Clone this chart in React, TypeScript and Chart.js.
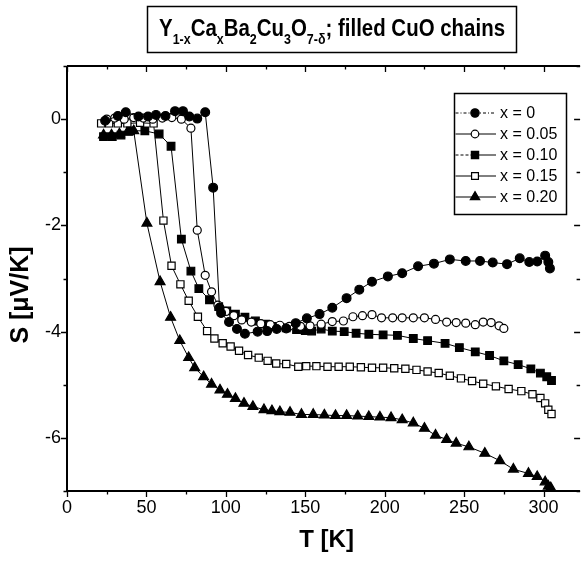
import React, { useEffect, useRef } from 'react';
import { Chart, registerables } from 'chart.js';

Chart.register(...registerables);

// ---------- data ----------
const seriesLabels = ['x = 0', 'x = 0.05', 'x = 0.10', 'x = 0.15', 'x = 0.20'];

const T_x000 = [24, 32, 37, 45, 51, 56, 62, 68, 73, 77, 82, 87, 92, 96, 97, 102, 107, 112, 120, 126, 132, 138, 144, 151, 159, 167, 176, 184, 192, 202, 211, 221, 231, 241, 251, 260, 268, 277, 285, 291, 296, 301, 303, 304];
const S_x000 = [-0.03, 0.06, 0.13, 0.05, 0.05, 0.08, 0.06, 0.15, 0.15, 0.05, 0.01, 0.13, -1.29, -3.55, -3.65, -3.82, -3.95, -4.04, -4.0, -3.99, -3.95, -3.94, -3.84, -3.75, -3.67, -3.55, -3.37, -3.21, -3.06, -2.96, -2.9, -2.77, -2.72, -2.64, -2.67, -2.67, -2.7, -2.73, -2.62, -2.69, -2.68, -2.57, -2.69, -2.81];

const T_x005 = [25, 30, 36, 42, 48, 54, 60, 66, 72, 78, 82, 87, 91, 95, 100, 105, 110, 116, 122, 128, 134, 140, 147, 153, 160, 167, 174, 180, 186, 192, 198, 205, 211, 218, 225, 232, 239, 245, 251, 257, 262, 267, 272, 275];
const S_x005 = [0.0, 0.02, 0.0, 0.03, 0.02, 0.0, 0.02, 0.03, 0.0, -0.17, -2.09, -2.94, -3.25, -3.5, -3.62, -3.7, -3.78, -3.82, -3.85, -3.87, -3.88, -3.9, -3.9, -3.89, -3.86, -3.81, -3.8, -3.72, -3.7, -3.68, -3.74, -3.74, -3.74, -3.74, -3.74, -3.77, -3.82, -3.83, -3.84, -3.87, -3.82, -3.83, -3.89, -3.94];

const T_x010 = [23, 28.5, 34, 40, 49, 58, 65.5, 72, 78, 83, 89.7, 95.5, 100.6, 106, 112, 118.6, 125, 131, 138, 144.5, 150, 154, 160, 167, 174.5, 182, 190, 199, 208, 218, 227, 238, 247, 257, 266, 275, 284, 292, 298, 302, 305];
const S_x010 = [-0.33, -0.33, -0.3, -0.22, -0.22, -0.28, -0.51, -2.26, -2.86, -3.19, -3.4, -3.53, -3.61, -3.67, -3.73, -3.8, -3.86, -3.9, -3.93, -3.96, -3.98, -3.99, -3.95, -3.99, -4.0, -4.03, -4.05, -4.06, -4.07, -4.13, -4.17, -4.22, -4.3, -4.38, -4.45, -4.55, -4.62, -4.7, -4.78, -4.85, -4.92];

const T_x015 = [21.5, 26.5, 32, 38, 46, 54.5, 60.7, 65.8, 71.4, 76.6, 82.4, 88.2, 92.8, 98, 103, 108.3, 114, 120.7, 126.3, 131.7, 138, 145.6, 150.6, 157, 164, 171, 178, 185, 192, 199, 206, 213, 220, 227, 234, 241, 248, 255, 262, 270, 278, 286, 293, 298, 301, 303, 305];
const S_x015 = [-0.08, -0.08, -0.08, -0.08, -0.07, -0.08, -1.91, -2.76, -3.11, -3.42, -3.72, -3.99, -4.13, -4.22, -4.28, -4.36, -4.44, -4.49, -4.55, -4.6, -4.61, -4.66, -4.65, -4.65, -4.66, -4.66, -4.66, -4.67, -4.68, -4.68, -4.69, -4.7, -4.72, -4.75, -4.78, -4.83, -4.88, -4.93, -4.98, -5.03, -5.08, -5.12, -5.18, -5.25, -5.35, -5.47, -5.55];

const T_x020 = [23, 28, 33, 38, 42, 50.3, 58.6, 65.2, 71, 76.6, 80.4, 86, 91, 96.3, 101, 106, 111.4, 117, 124, 129, 134, 140.4, 147.6, 155, 162, 169, 176, 183, 190, 197, 204, 211, 218, 225, 232, 239, 245, 253, 263, 272.5, 281, 290.5, 296, 301, 303, 304.5];
const S_x020 = [-0.3, -0.3, -0.28, -0.25, -0.22, -1.96, -3.06, -3.73, -4.17, -4.49, -4.68, -4.85, -4.99, -5.1, -5.18, -5.26, -5.35, -5.41, -5.47, -5.49, -5.51, -5.52, -5.56, -5.56, -5.57, -5.58, -5.58, -5.59, -5.6, -5.61, -5.62, -5.66, -5.72, -5.82, -5.95, -6.03, -6.1, -6.17, -6.29, -6.43, -6.59, -6.67, -6.73, -6.83, -6.91, -6.94];

const X_MIN = 0;
const X_MAX = 323;
const Y_MIN = -7;
const Y_MAX = 1;
const yTickLabels = [0, -2, -4, -6];
const xTitle = 'T [K]';
const yTitle = 'S [μV/K]';

const titleParts: [string, boolean][] = [
  ['Y', false], ['1-x', true], ['Ca', false], ['x', true], ['Ba', false], ['2', true],
  ['Cu', false], ['3', true], ['O', false], ['7-δ', true], ['; filled CuO chains', false],
];

const FONT = '"Liberation Sans", Arial, Helvetica, sans-serif';

type Mk = { style: 'circle' | 'rect' | 'triangle'; fill: string; r: number };
const markers: Mk[] = [
  { style: 'circle', fill: '#000', r: 4.4 },
  { style: 'circle', fill: '#fff', r: 4.0 },
  { style: 'rect', fill: '#000', r: 5.4 },
  { style: 'rect', fill: '#fff', r: 5.1 },
  { style: 'triangle', fill: '#000', r: 5.7 },
];
const legendDash: number[][] = [[3, 2, 1, 2], [], [3, 2], [], []];

function pts(t: number[], s: number[]) {
  return t.map((v, i) => ({ x: v, y: s[i] }));
}

function drawMarker(ctx: CanvasRenderingContext2D, m: Mk, x: number, y: number, scale = 1) {
  const r = m.r * scale;
  ctx.beginPath();
  if (m.style === 'circle') {
    ctx.arc(x, y, r, 0, Math.PI * 2);
  } else if (m.style === 'rect') {
    const h = r * Math.SQRT1_2;
    ctx.rect(x - h, y - h, 2 * h, 2 * h);
  } else {
    let a = 0;
    ctx.moveTo(x + Math.sin(a) * r, y - Math.cos(a) * r);
    a += (2 * Math.PI) / 3;
    ctx.lineTo(x + Math.sin(a) * r, y - Math.cos(a) * r);
    a += (2 * Math.PI) / 3;
    ctx.lineTo(x + Math.sin(a) * r, y - Math.cos(a) * r);
    ctx.closePath();
  }
  ctx.fillStyle = m.fill;
  ctx.fill();
  ctx.lineWidth = 1.2;
  ctx.strokeStyle = '#000';
  ctx.stroke();
}

const decorPlugin = {
  id: 'decor',
  afterDraw(chart: any) {
    const { ctx, chartArea: a, scales } = chart;
    const xs = scales.x;
    const ys = scales.y;
    ctx.save();
    // frame
    ctx.strokeStyle = '#000';
    ctx.lineWidth = 2;
    ctx.beginPath();
    ctx.moveTo(a.left, a.top);
    ctx.lineTo(a.left, a.bottom);
    ctx.lineTo(a.right, a.bottom);
    ctx.moveTo(a.left, a.top);
    ctx.lineTo(a.right, a.top);
    ctx.stroke();
    // ticks
    ctx.lineWidth = 1.3;
    ctx.beginPath();
    for (let v = X_MIN; v <= X_MAX; v += 25) {
      const px = Math.round(xs.getPixelForValue(v)) + 0.5;
      const L = v % 50 === 0 ? 6 : 3.5;
      ctx.moveTo(px, a.bottom);
      ctx.lineTo(px, a.bottom + L);
      ctx.moveTo(px, a.top);
      ctx.lineTo(px, a.top + L);
    }
    for (let v = Y_MIN; v <= Y_MAX; v += 1) {
      const py = Math.round(ys.getPixelForValue(v)) + 0.5;
      const L = v % 2 === 0 ? 6 : 3.5;
      ctx.moveTo(a.left - L, py);
      ctx.lineTo(a.left, py);
      ctx.moveTo(a.right - L, py);
      ctx.lineTo(a.right, py);
    }
    ctx.stroke();

    // axis titles
    ctx.fillStyle = '#000';
    ctx.font = `bold 24px ${FONT}`;
    ctx.textAlign = 'center';
    ctx.textBaseline = 'middle';
    ctx.fillText(xTitle, (a.left + a.right) / 2 + 3, 540);
    ctx.save();
    ctx.translate(21, 295);
    ctx.rotate(-Math.PI / 2);
    ctx.font = `bold 25px ${FONT}`;
    ctx.fillText(yTitle, 0, 0);
    ctx.restore();

    // title box with sub-scripted formula
    const boxL = 147.5, boxR = 516.5, boxT = 6.5, boxB = 52.5;
    ctx.lineWidth = 1.5;
    ctx.strokeRect(boxL, boxT, boxR - boxL, boxB - boxT);
    const mainFont = `bold 23px ${FONT}`;
    const subFont = `bold 14px ${FONT}`;
    let total = 0;
    const widths = titleParts.map(([txt, sub]) => {
      ctx.font = sub ? subFont : mainFont;
      const w = ctx.measureText(txt).width;
      total += w;
      return w;
    });
    const targetW = 346;
    const sx = targetW / total;
    const cx = (boxL + boxR) / 2;
    ctx.save();
    ctx.translate(cx - targetW / 2, 0);
    ctx.scale(sx, 1);
    ctx.fillStyle = '#000';
    ctx.textBaseline = 'alphabetic';
    ctx.textAlign = 'left';
    let x = 0;
    titleParts.forEach(([txt, sub], i) => {
      ctx.font = sub ? subFont : mainFont;
      ctx.fillText(txt, x, sub ? 44 : 36);
      x += widths[i];
    });
    ctx.restore();

    // legend
    const lgL = 454.5, lgT = 93.5, lgW = 112, lgH = 121;
    ctx.fillStyle = '#fff';
    ctx.fillRect(lgL, lgT, lgW, lgH);
    ctx.strokeStyle = '#000';
    ctx.lineWidth = 1.5;
    ctx.strokeRect(lgL, lgT, lgW, lgH);
    seriesLabels.forEach((lab, i) => {
      const y = 113 + i * 21;
      ctx.lineWidth = 1;
      ctx.strokeStyle = '#000';
      ctx.beginPath();
      ctx.setLineDash(legendDash[i]);
      ctx.moveTo(lgL + 1, y);
      ctx.lineTo(475, y);
      ctx.stroke();
      ctx.setLineDash(i === 0 ? legendDash[i] : []);
      ctx.beginPath();
      ctx.moveTo(475, y);
      ctx.lineTo(496, y);
      ctx.stroke();
      ctx.setLineDash([]);
      drawMarker(ctx, markers[i], 475, y, 0.95);
      ctx.fillStyle = '#000';
      ctx.font = `16px ${FONT}`;
      ctx.textBaseline = 'middle';
      ctx.textAlign = 'left';
      ctx.fillText(lab, 500, y + 1);
    });
    ctx.restore();
  },
};

export default function App() {
  const ref = useRef<HTMLCanvasElement | null>(null);
  useEffect(() => {
    if (!ref.current) return;
    const series = [
      pts(T_x000, S_x000),
      pts(T_x005, S_x005),
      pts(T_x010, S_x010),
      pts(T_x015, S_x015),
      pts(T_x020, S_x020),
    ];
    const chart = new Chart(ref.current, {
      type: 'scatter',
      data: {
        datasets: series.map((d, i) => ({
          label: seriesLabels[i],
          data: d,
          showLine: true,
          borderColor: '#000',
          borderWidth: 1,
          tension: 0,
          pointStyle: markers[i].style,
          pointRadius: markers[i].r,
          pointHoverRadius: markers[i].r,
          pointBackgroundColor: markers[i].fill,
          pointBorderColor: '#000',
          pointBorderWidth: 1.2,
          clip: false as any,
        })),
      },
      options: {
        responsive: false,
        animation: false,
        devicePixelRatio: 1,
        layout: { padding: { top: 66, right: 0, bottom: 0, left: 0 } },
        plugins: {
          legend: { display: false },
          title: { display: false },
          tooltip: { enabled: false },
        },
        scales: {
          x: {
            type: 'linear',
            min: X_MIN,
            max: X_MAX,
            grid: { display: false, drawTicks: false },
            border: { display: false },
            ticks: {
              stepSize: 50,
              includeBounds: false,
              padding: 6,
              color: '#000',
              font: { family: FONT, size: 18 },
              maxRotation: 0,
            },
            afterFit: (s: any) => {
              s.height = 71;
            },
          },
          y: {
            type: 'linear',
            min: Y_MIN,
            max: Y_MAX,
            grid: { display: false, drawTicks: false },
            border: { display: false },
            afterBuildTicks: (s: any) => {
              s.ticks = yTickLabels.map((v) => ({ value: v }));
            },
            ticks: {
              stepSize: 2,
              padding: 6,
              color: '#000',
              font: { family: FONT, size: 18 },
            },
            afterFit: (s: any) => {
              s.width = 67;
            },
          },
        },
      },
      plugins: [decorPlugin],
    } as any);
    return () => chart.destroy();
  }, []);
  return (
    <div style={{ position: 'absolute', left: 0, top: 0, width: 587, height: 562, background: '#fff' }}>
      <canvas ref={ref} width={587} height={562} style={{ display: 'block' }} />
    </div>
  );
}
